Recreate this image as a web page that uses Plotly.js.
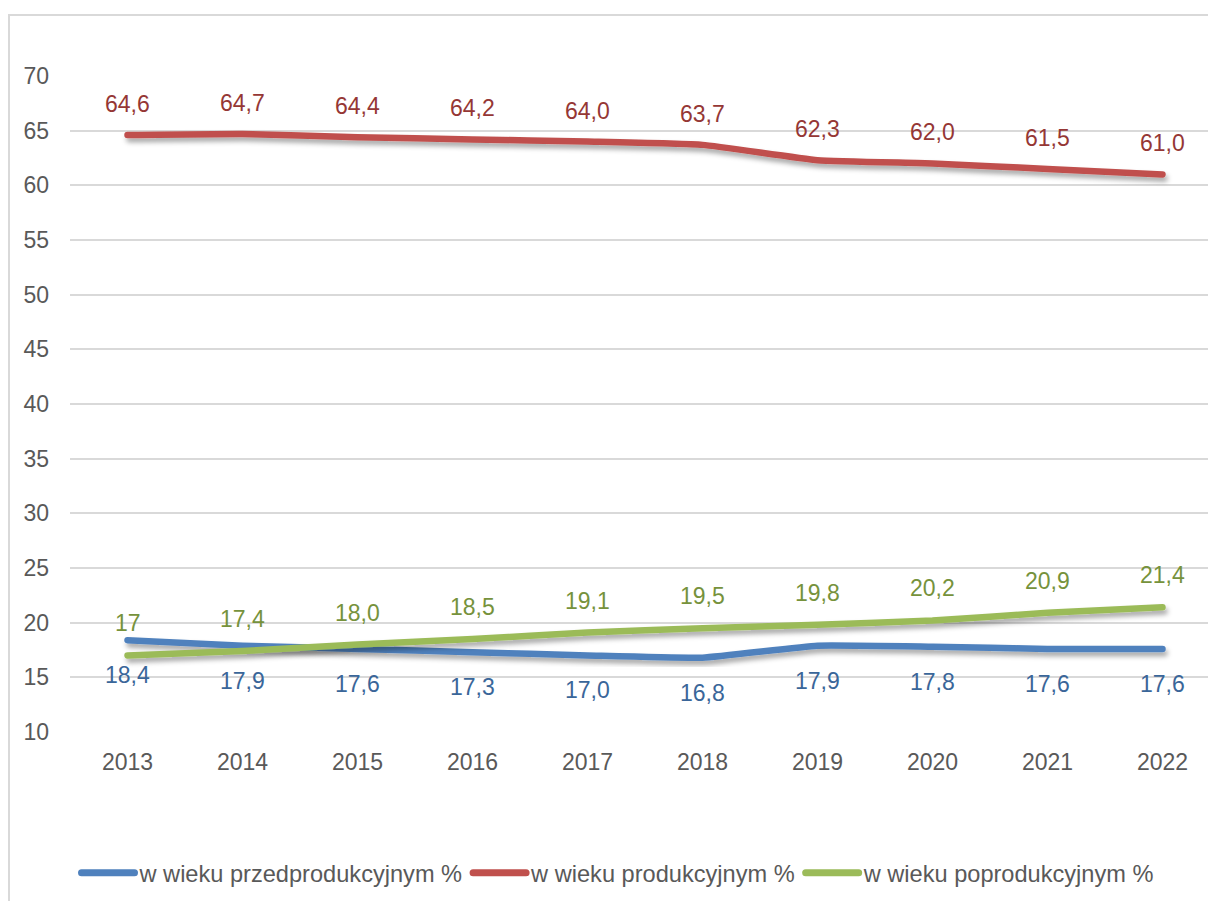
<!DOCTYPE html>
<html>
<head>
<meta charset="utf-8">
<script src="https://cdn.plot.ly/plotly-3.0.1.min.js"></script>
<style>
  html, body { margin: 0; padding: 0; background: #fff; overflow: hidden; width: 1208px; height: 901px; }
  #frame { position: absolute; left: 8px; top: 14px; width: 1240px; height: 900px; border: 2px solid #d9d9d9; box-sizing: border-box; pointer-events: none; }
  #chart { position: absolute; left: 0; top: 0; }
</style>
</head>
<body>
<div id="chart"></div>
<div id="frame"></div>
<script>
const years = ['2013','2014','2015','2016','2017','2018','2019','2020','2021','2022'];
const przedprodukcyjny = [18.4, 17.9, 17.6, 17.3, 17.0, 16.8, 17.9, 17.8, 17.6, 17.6];
const produkcyjny = [64.6, 64.7, 64.4, 64.2, 64.0, 63.7, 62.3, 62.0, 61.5, 61.0];
const poprodukcyjny = [17, 17.4, 18.0, 18.5, 19.1, 19.5, 19.8, 20.2, 20.9, 21.4];
const przedLabels = ['18,4','17,9','17,6','17,3','17,0','16,8','17,9','17,8','17,6','17,6'];
const prodLabels = ['64,6','64,7','64,4','64,2','64,0','63,7','62,3','62,0','61,5','61,0'];
const poprodLabels = ['17','17,4','18,0','18,5','19,1','19,5','19,8','20,2','20,9','21,4'];
const seriesNames = ['w wieku przedprodukcyjnym %', 'w wieku produkcyjnym %', 'w wieku poprodukcyjnym %'];
const yTicks = [10, 15, 20, 25, 30, 35, 40, 45, 50, 55, 60, 65, 70];

const FONT = '"Liberation Sans", Arial, sans-serif';
const FS = 23;
const lineColors = ['#4F81BD', '#C0504D', '#9BBB59'];
const labelColors = ['#3A6699', '#953735', '#76923C'];

function mk(y, i) {
  return {
    type: 'scatter', mode: 'lines', x: years, y: y, name: seriesNames[i],
    line: { color: lineColors[i], width: 6.5, shape: 'spline', smoothing: 0.4 },
    hoverinfo: 'skip'
  };
}
const data = [mk(przedprodukcyjny, 0), mk(produkcyjny, 1), mk(poprodukcyjny, 2)];

const annotations = [];
function addLabels(vals, labels, color, shift) {
  vals.forEach((v, k) => annotations.push({
    x: k, y: v, xref: 'x', yref: 'y', text: labels[k], showarrow: false,
    yshift: shift, font: { family: FONT, size: FS, color: color }
  }));
}
addLabels(przedprodukcyjny, przedLabels, labelColors[0], -35);
addLabels(produkcyjny, prodLabels, labelColors[1], 31);
addLabels(poprodukcyjny, poprodLabels, labelColors[2], 32);

const W = 1230;
const layout = {
  width: W, height: 901,
  margin: { l: 70, r: 10, t: 76, b: 169 },
  paper_bgcolor: 'rgba(0,0,0,0)', plot_bgcolor: 'rgba(0,0,0,0)',
  font: { family: FONT, size: FS, color: '#595959' },
  showlegend: true,
  legend: {
    orientation: 'h', xref: 'container', yref: 'container',
    x: 618 / W, xanchor: 'center', y: 1 - 873 / 901, yanchor: 'middle',
    font: { family: FONT, size: 23.6, color: '#595959' },
    itemwidth: 53, tracegroupgap: 0, itemclick: false
  },
  xaxis: {
    type: 'category', tickvals: years, ticktext: years,
    showgrid: false, zeroline: false, showline: false, ticks: '',
    ticklabelstandoff: 14, tickfont: { family: FONT, size: FS, color: '#595959' },
    range: [-0.5, 9.5], fixedrange: true
  },
  yaxis: {
    range: [10, 70], tickvals: yTicks, ticktext: yTicks.map(String),
    showgrid: true, gridcolor: '#d9d9d9', gridwidth: 2,
    zeroline: false, showline: false, ticks: '',
    ticklabelstandoff: 20, tickfont: { family: FONT, size: FS, color: '#595959' },
    fixedrange: true
  },
  annotations: annotations
};

Plotly.newPlot('chart', data, layout, { staticPlot: true, displayModeBar: false }).then(gd => {
  const svg = gd.querySelector('svg.main-svg');
  const ns = 'http://www.w3.org/2000/svg';
  let defs = svg.querySelector('defs');
  if (!defs) { defs = document.createElementNS(ns, 'defs'); svg.insertBefore(defs, svg.firstChild); }
  const f = document.createElementNS(ns, 'filter');
  f.setAttribute('id', 'lineshadow');
  f.setAttribute('x', '-5%'); f.setAttribute('y', '-50%');
  f.setAttribute('width', '110%'); f.setAttribute('height', '200%');
  f.innerHTML = '<feDropShadow dx="2" dy="4" stdDeviation="2.5" flood-color="#000" flood-opacity="0.35"/>';
  defs.appendChild(f);
  gd.querySelectorAll('.scatterlayer path.js-line').forEach(p => {
    p.setAttribute('filter', 'url(#lineshadow)');
    p.style.strokeLinecap = 'round';
  });
  gd.querySelectorAll('.legend path.js-line').forEach(p => {
    p.style.strokeLinecap = 'round';
    p.style.strokeWidth = '7px';
  });
});
</script>
</body>
</html>
